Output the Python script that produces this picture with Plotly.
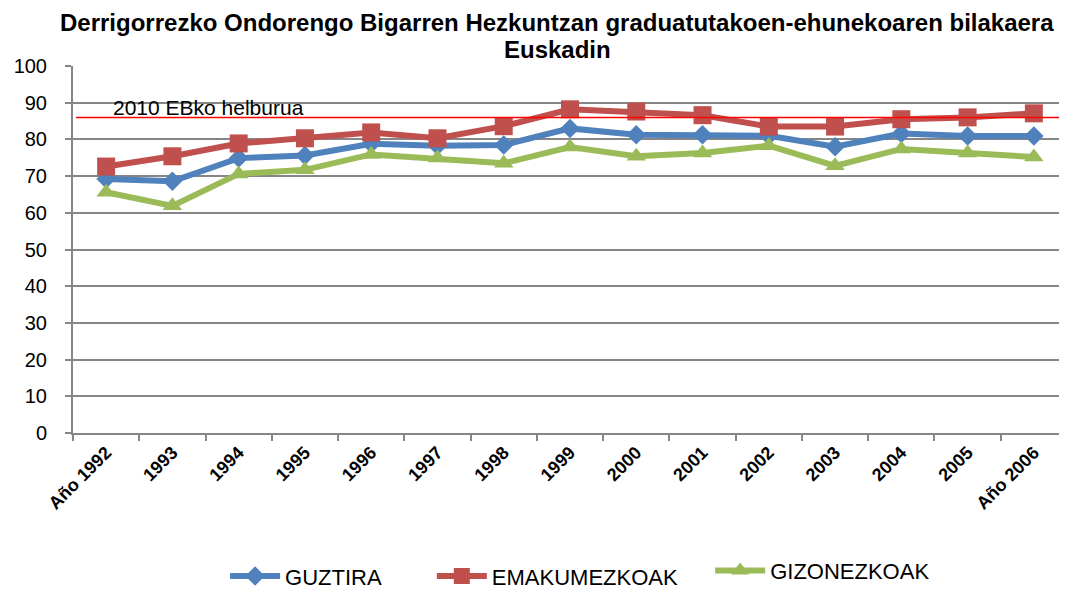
import plotly.graph_objects as go

years = ["Año 1992", "1993", "1994", "1995", "1996", "1997", "1998", "1999",
         "2000", "2001", "2002", "2003", "2004", "2005", "Año 2006"]
guztira = [69.2, 68.6, 74.9, 75.6, 78.8, 78.3, 78.5, 83.0, 81.3, 81.3, 81.0, 78.0, 81.6, 80.9, 80.9]
emakumezkoak = [72.6, 75.4, 78.9, 80.3, 81.9, 80.3, 83.6, 88.2, 87.6, 86.6, 83.5, 83.5, 85.5, 86.0, 87.1]
gizonezkoak = [65.6, 61.9, 70.6, 71.7, 75.9, 74.9, 73.5, 77.9, 75.4, 76.3, 78.3, 72.8, 77.4, 76.3, 75.2]
target = 86
target_label = "2010 EBko helburua"
title_lines = ["Derrigorrezko Ondorengo Bigarren Hezkuntzan graduatutakoen-ehunekoaren bilakaera",
               "Euskadin"]

FONT = "Liberation Sans, Arial"
fig = go.Figure()
series = [
    ("GUZTIRA", guztira, "#4F81BD", "diamond", 15, "legend", 0.153, -0.39),
    ("EMAKUMEZKOAK", emakumezkoak, "#C0504D", "square", 18, "legend2", 0.361, -0.39),
    ("GIZONEZKOAK", gizonezkoak, "#9BBB59", "triangle-up", 17, "legend3", 0.641, -0.375),
]
legends = {}
for name, vals, col, sym, sz, leg, lx, ly in series:
    fig.add_trace(go.Scatter(
        x=years, y=vals, name=name, mode="lines+markers",
        line=dict(color=col, width=6),
        marker=dict(symbol=sym, size=sz, color=col),
        legend=leg,
    ))
    legends[leg] = dict(x=lx, xanchor="left", y=ly, yanchor="middle",
                        orientation="h", font=dict(size=22, family=FONT, color="black"),
                        bgcolor="rgba(0,0,0,0)", itemwidth=50)

fig.add_shape(type="line", xref="paper", yref="y", x0=0.003, x1=1, y0=target, y1=target,
              line=dict(color="#FF0000", width=1.5))
fig.add_annotation(xref="paper", yref="y", x=0.038, y=target, text=target_label,
                   showarrow=False, xanchor="left", yanchor="bottom", yshift=-4,
                   font=dict(family=FONT, size=21, color="black"))
for line, yp in zip(title_lines, [(425 - 15) / 367, (425 - 41) / 367]):
    fig.add_annotation(xref="paper", yref="paper", x=0.487, y=yp, yanchor="middle",
                       xanchor="center", showarrow=False, text=line,
                       font=dict(family=FONT, size=24, color="black", weight="bold"))

fig.update_layout(
    width=1059, height=584,
    margin=dict(l=65, r=0, t=58, b=159, autoexpand=False),
    paper_bgcolor="white", plot_bgcolor="white",
    font=dict(family=FONT, color="black"),
    showlegend=True,
    **legends,
)
fig.update_xaxes(
    type="category", range=[-0.5, 14.5], tickangle=-45, showgrid=False, automargin=False,
    showline=True, linecolor="#868686", linewidth=2,
    ticks="outside", tickson="boundaries", ticklen=6, tickcolor="#868686", tickwidth=2,
    tickfont=dict(size=18, family=FONT, weight="bold", color="black"),
)
fig.update_yaxes(
    range=[0, 100], dtick=10, showgrid=True, gridcolor="#868686", gridwidth=2, automargin=False,
    showline=True, linecolor="#868686", linewidth=2,
    ticks="outside", ticklen=6, tickcolor="#868686", tickwidth=2, ticklabelstandoff=14,
    tickfont=dict(size=20, family=FONT, color="black"),
    zeroline=False,
)

fig.write_html("out.html")
